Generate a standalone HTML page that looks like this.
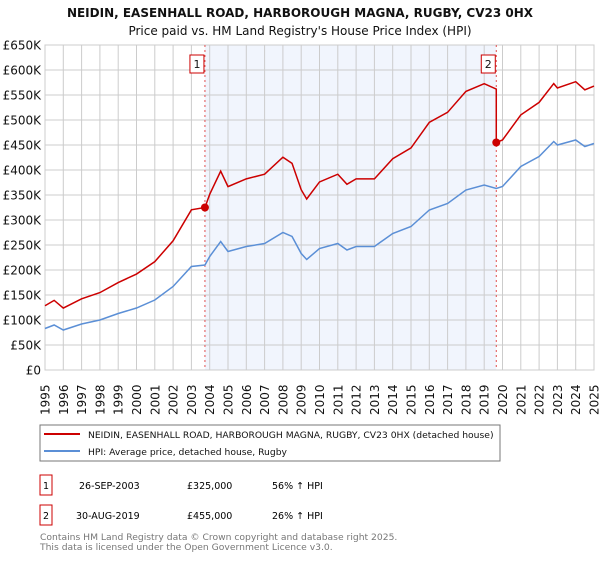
<!DOCTYPE html>
<html><head><meta charset="utf-8"><style>
body{margin:0;background:#fff;font-family:"Liberation Sans","DejaVu Sans",sans-serif;}
svg text{font-family:"DejaVu Sans","Liberation Sans",sans-serif;}
</style></head><body>
<svg id="c" width="600" height="560" xmlns="http://www.w3.org/2000/svg">
<text x="300" y="17" text-anchor="middle" font-size="12" font-weight="bold" fill="#111">NEIDIN, EASENHALL ROAD, HARBOROUGH MAGNA, RUGBY, CV23 0HX</text>
<text x="300" y="35" text-anchor="middle" font-size="12" fill="#111">Price paid vs. HM Land Registry's House Price Index (HPI)</text>
<g id="plot"></g>
<g font-size="12" fill="#111">
<g transform="translate(49.5,415) rotate(-90)"><text x="0" y="0">1995</text></g>
<g transform="translate(67.8,415) rotate(-90)"><text x="0" y="0">1996</text></g>
<g transform="translate(86.1,415) rotate(-90)"><text x="0" y="0">1997</text></g>
<g transform="translate(104.4,415) rotate(-90)"><text x="0" y="0">1998</text></g>
<g transform="translate(122.7,415) rotate(-90)"><text x="0" y="0">1999</text></g>
<g transform="translate(141,415) rotate(-90)"><text x="0" y="0">2000</text></g>
<g transform="translate(159.3,415) rotate(-90)"><text x="0" y="0">2001</text></g>
<g transform="translate(177.6,415) rotate(-90)"><text x="0" y="0">2002</text></g>
<g transform="translate(195.9,415) rotate(-90)"><text x="0" y="0">2003</text></g>
<g transform="translate(214.2,415) rotate(-90)"><text x="0" y="0">2004</text></g>
<g transform="translate(232.5,415) rotate(-90)"><text x="0" y="0">2005</text></g>
<g transform="translate(250.8,415) rotate(-90)"><text x="0" y="0">2006</text></g>
<g transform="translate(269.1,415) rotate(-90)"><text x="0" y="0">2007</text></g>
<g transform="translate(287.4,415) rotate(-90)"><text x="0" y="0">2008</text></g>
<g transform="translate(305.7,415) rotate(-90)"><text x="0" y="0">2009</text></g>
<g transform="translate(324,415) rotate(-90)"><text x="0" y="0">2010</text></g>
<g transform="translate(342.3,415) rotate(-90)"><text x="0" y="0">2011</text></g>
<g transform="translate(360.6,415) rotate(-90)"><text x="0" y="0">2012</text></g>
<g transform="translate(378.9,415) rotate(-90)"><text x="0" y="0">2013</text></g>
<g transform="translate(397.2,415) rotate(-90)"><text x="0" y="0">2014</text></g>
<g transform="translate(415.5,415) rotate(-90)"><text x="0" y="0">2015</text></g>
<g transform="translate(433.8,415) rotate(-90)"><text x="0" y="0">2016</text></g>
<g transform="translate(452.1,415) rotate(-90)"><text x="0" y="0">2017</text></g>
<g transform="translate(470.4,415) rotate(-90)"><text x="0" y="0">2018</text></g>
<g transform="translate(488.7,415) rotate(-90)"><text x="0" y="0">2019</text></g>
<g transform="translate(507,415) rotate(-90)"><text x="0" y="0">2020</text></g>
<g transform="translate(525.3,415) rotate(-90)"><text x="0" y="0">2021</text></g>
<g transform="translate(543.6,415) rotate(-90)"><text x="0" y="0">2022</text></g>
<g transform="translate(561.9,415) rotate(-90)"><text x="0" y="0">2023</text></g>
<g transform="translate(580.2,415) rotate(-90)"><text x="0" y="0">2024</text></g>
<g transform="translate(598.5,415) rotate(-90)"><text x="0" y="0">2025</text></g>
</g>
<rect x="40" y="425" width="460" height="36" fill="#fff" stroke="#777"/>
<line x1="44" y1="434" x2="80" y2="434" stroke="#cc0000" stroke-width="2"/>
<text x="88" y="438" font-size="9.2" fill="#111">NEIDIN, EASENHALL ROAD, HARBOROUGH MAGNA, RUGBY, CV23 0HX (detached house)</text>
<line x1="44" y1="451" x2="80" y2="451" stroke="#5b8fd6" stroke-width="2"/>
<text x="88" y="455" font-size="9.2" fill="#111">HPI: Average price, detached house, Rugby</text>
<g font-size="9.5">
<rect x="40" y="475" width="12" height="20" fill="#fff" stroke="#cc0000"/>
<text x="46" y="489" text-anchor="middle">1</text>
<text x="79" y="489">26-SEP-2003</text>
<text x="187" y="489">£325,000</text>
<text x="272" y="489">56% ↑ HPI</text>
</g>
<g font-size="9.5">
<rect x="40" y="505" width="12" height="20" fill="#fff" stroke="#cc0000"/>
<text x="46" y="519" text-anchor="middle">2</text>
<text x="76" y="519">30-AUG-2019</text>
<text x="187" y="519">£455,000</text>
<text x="272" y="519">26% ↑ HPI</text>
</g>
<text x="40" y="540" font-size="9.2" fill="#777">Contains HM Land Registry data © Crown copyright and database right 2025.</text>
<text x="40" y="550" font-size="9.2" fill="#777">This data is licensed under the Open Government Licence v3.0.</text>
</svg>
<script>
const hpiYears=[1995,1995.5,1996,1997,1998,1999,2000,2001,2002,2003,2003.74,2004,2004.6,2005,2006,2007,2008,2008.5,2009,2009.3,2010,2011,2011.5,2012,2013,2014,2015,2016,2017,2018,2019,2019.66,2020,2021,2022,2022.8,2023,2024,2024.5,2025];
const hpiValues=[83,90,80,92,100,113,124,140,167,207,210,227,257,237,247,253,275,267,233,221,243,253,240,247,247,273,287,320,333,360,370,363,367,407,427,457,450,460,447,453];
const saleYears=[2003.74,2019.66];
const salePrices=[325,455];
const yTicks=[0,50,100,150,200,250,300,350,400,450,500,550,600,650];
const yLabels=["£0","£50K","£100K","£150K","£200K","£250K","£300K","£350K","£400K","£450K","£500K","£550K","£600K","£650K"];
const xTicks=[1995,1996,1997,1998,1999,2000,2001,2002,2003,2004,2005,2006,2007,2008,2009,2010,2011,2012,2013,2014,2015,2016,2017,2018,2019,2020,2021,2022,2023,2024,2025];
const X0=45,X1=594,Y0=370,Y1=45;
const xs=v=>X0+(v-1995)/30*(X1-X0);
const ys=v=>Y0-v/650*(Y0-Y1);
const NS="http://www.w3.org/2000/svg";
const g=document.getElementById('plot');
function mk(t,a,p){const e=document.createElementNS(NS,t);for(const k in a)e.setAttribute(k,a[k]);(p||g).appendChild(e);return e;}
let sh=mk('rect',{x:xs(saleYears[0]),y:Y1,width:xs(saleYears[1])-xs(saleYears[0]),height:Y0-Y1,fill:'#eef3fc',opacity:0.8});


yTicks.forEach((t,i)=>{
 let l=mk('line',{x1:X0,x2:X1,y1:ys(t),y2:ys(t),stroke:'#ccc'});
 
 
 let tx=mk('text',{x:41,y:ys(t)+4.5,'text-anchor':'end','font-size':12,fill:'#111'});tx.textContent=yLabels[i];
 
 
});
xTicks.forEach(t=>{
 let l=mk('line',{x1:xs(t),x2:xs(t),y1:Y1,y2:Y0,stroke:'#ccc'});
 
 
});
let fr=mk('rect',{x:X0,y:Y1,width:X1-X0,height:Y0-Y1,fill:'none',stroke:'#ccc'});


function hpiAt(y){for(let i=0;i<hpiYears.length-1;i++){if(y<=hpiYears[i+1]){const f=(y-hpiYears[i])/(hpiYears[i+1]-hpiYears[i]);return hpiValues[i]+f*(hpiValues[i+1]-hpiValues[i]);}}return hpiValues[hpiValues.length-1];}
const r1=salePrices[0]/hpiAt(saleYears[0]),r2=salePrices[1]/hpiAt(saleYears[1]);
let redPts=[];
hpiYears.forEach((y,i)=>{const r=y<saleYears[1]?r1:r2;if(y===saleYears[1]){redPts.push([xs(y),ys(hpiValues[i]*r1)]);}redPts.push([xs(y),ys(hpiValues[i]*r)]);});
saleYears.forEach((s,i)=>{
 let l=mk('line',{x1:xs(s),x2:xs(s),y1:Y1,y2:Y0,stroke:'#e05050','stroke-dasharray':'2,3'});
 
 
 let b=mk('rect',{x:xs(s)-15,y:55,width:14,height:18,fill:'#fff',stroke:'#cc0000'});
 
 
 let t=mk('text',{x:xs(s)-8,y:68,'text-anchor':'middle','font-size':11,fill:'#111'});t.textContent=i+1;
});
let hp=mk('polyline',{points:hpiYears.map((y,i)=>xs(y)+','+ys(hpiValues[i])).join(' '),fill:'none',stroke:'#5b8fd6','stroke-width':1.5});


let rp=mk('polyline',{points:redPts.map(p=>p.join(',')).join(' '),fill:'none',stroke:'#cc0000','stroke-width':1.5});


saleYears.forEach((s,i)=>{
 let c=mk('circle',{cx:xs(s),cy:ys(salePrices[i]),r:4,fill:'#cc0000'});
 
 
});
</script>
</body></html>
